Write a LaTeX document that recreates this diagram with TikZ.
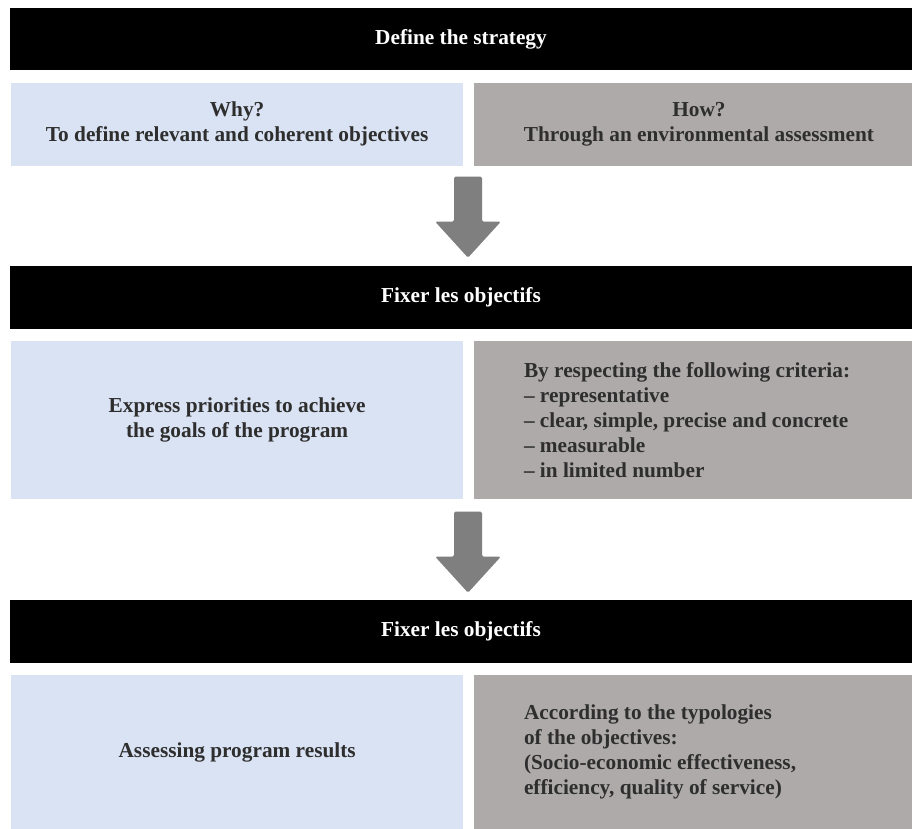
\documentclass[tikz,border=0pt]{standalone}
\usepackage{fontspec}
\setmainfont{Liberation Serif}
\definecolor{boxblue}{HTML}{DAE3F3}
\definecolor{boxgrey}{HTML}{AEAAAA}
\definecolor{inktext}{HTML}{2E2E2E}
\definecolor{arrowgrey}{HTML}{7F7F7F}
\begin{document}
\begin{tikzpicture}[x=1pt,y=-1pt,
  every node/.style={font=\fontsize{21.3}{25}\selectfont\bfseries, inner sep=0pt, outer sep=0pt},
  headbar/.style={fill=black, text=white, minimum width=902pt, minimum height=62.5pt, anchor=north west},
  bluebox/.style={fill=boxblue, text=inktext, align=center, minimum width=452.3pt, anchor=north west},
  greybox/.style={fill=boxgrey, text=inktext, minimum width=438pt, anchor=north west},
  greytext/.style={text=inktext, align=left, anchor=west},
  downarrow/.pic={\fill[arrowgrey, rounded corners=1.5pt]
    (-14,0) -- (14,0) -- (14,45) -- (32.8,45) -- (0,81) -- (-32.8,45) -- (-14,45) -- cycle;}
]
\useasboundingbox (0,0) rectangle (912,829);
\fill[white] (0,0) rectangle (912,829);

% --- stage 1 ---
\node[headbar] (bar1) at (10,8) {Define the strategy};
\node[bluebox, minimum height=83pt] (blue1) at (11,82.7)
  {Why?\\To define relevant and coherent objectives};
\node[greybox, minimum height=83pt] (grey1) at (474,82.7) {};
\node[text=inktext, align=center] (grey1txt) at (699,124.2)
  {How?\\Through an environmental assessment};

\coordinate (arr1) at (468,176.7);
\pic at (arr1) {downarrow};

% --- stage 2 ---
\node[headbar] (bar2) at (10,266) {Fixer les objectifs};
\node[bluebox, minimum height=158.6pt] (blue2) at (11,340.7)
  {Express priorities to achieve\\the goals of the program};
\node[greybox, minimum height=158.6pt] (grey2) at (474,340.7) {};
\node[greytext] (grey2txt) at ([xshift=50pt]grey2.west)
  {By respecting the following criteria:\\
   – representative\\
   – clear, simple, precise and concrete\\
   – measurable\\
   – in limited number};

\coordinate (arr2) at (468,511.7);
\pic at (arr2) {downarrow};

% --- stage 3 ---
\node[headbar] (bar3) at (10,600) {Fixer les objectifs};
\node[bluebox, minimum height=154pt] (blue3) at (11,675)
  {Assessing program results};
\node[greybox, minimum height=154pt] (grey3) at (474,675) {};
\node[greytext] (grey3txt) at ([xshift=50pt]grey3.west)
  {According to the typologies\\
   of the objectives:\\
   (Socio-economic effectiveness,\\
   efficiency, quality of service)};
\end{tikzpicture}
\end{document}
